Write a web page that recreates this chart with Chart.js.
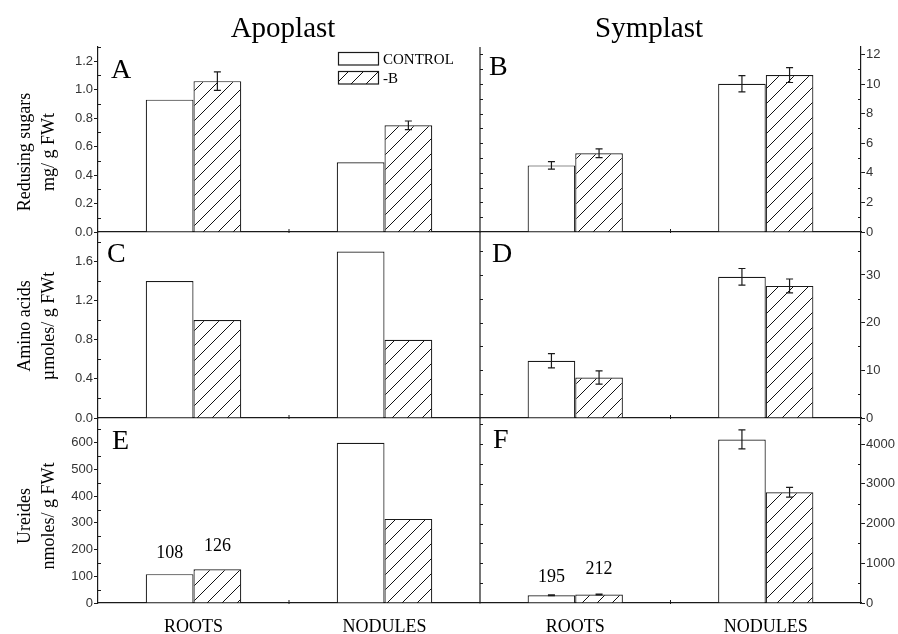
<!DOCTYPE html>
<html>
<head>
<meta charset="utf-8">
<script src="https://cdn.jsdelivr.net/npm/chart.js@4.4.1/dist/chart.umd.min.js"></script>
<style>
  body { margin: 0; background: #fff; }
  #wrap { position: relative; width: 898px; height: 634px; overflow: hidden; }
  #wrap canvas { position: absolute; left: 0; top: 0; }
  .t { position: absolute; white-space: nowrap; line-height: 1; color: #000;
       font-family: "Liberation Serif", "Times New Roman", serif; z-index: 5; }
  .ytitle { position: absolute; white-space: nowrap; text-align: center; line-height: 24px;
            font-family: "Liberation Serif", "Times New Roman", serif; font-size: 18px; z-index: 5;
            transform: translate(-50%, -50%) rotate(-90deg); }
</style>
</head>
<body>
<div id="wrap"></div>
<script>
// categories and series
const groups = ['ROOTS', 'NODULES'];
const seriesNames = ['CONTROL', '-B'];

// A - apoplast, reducing sugars (mg/ g FWt)
const aControl = [0.93, 0.49];
const aMinusB = [1.06, 0.75];
const aControlErr = [0, 0];
const aMinusBErr = [0.065, 0.03];
const aTicks = [0, 0.2, 0.4, 0.6, 0.8, 1.0, 1.2];

// B - symplast, reducing sugars
const bControl = [4.5, 10.02];
const bMinusB = [5.32, 10.6];
const bControlErr = [0.25, 0.55];
const bMinusBErr = [0.3, 0.5];
const bTicks = [0, 2, 4, 6, 8, 10, 12];

// C - apoplast, amino acids (µmoles/ g FWt)
const cControl = [1.4, 1.7];
const cMinusB = [1.0, 0.8];
const cControlErr = [0, 0];
const cMinusBErr = [0, 0];
const cTicks = [0, 0.4, 0.8, 1.2, 1.6];

// D - symplast, amino acids
const dControl = [12.0, 29.6];
const dMinusB = [8.5, 27.7];
const dControlErr = [1.5, 1.75];
const dMinusBErr = [1.4, 1.45];
const dTicks = [0, 10, 20, 30];

// E - apoplast, ureides (nmoles/ g FWt)
const eControl = [108, 600];
const eMinusB = [126, 315];
const eControlErr = [0, 0];
const eMinusBErr = [0, 0];
const eTicks = [0, 100, 200, 300, 400, 500, 600];
const eLabels = [['108', null], ['126', null]];

// F - symplast, ureides
const fControl = [195, 4120];
const fMinusB = [212, 2790];
const fControlErr = [10, 240];
const fMinusBErr = [10, 125];
const fTicks = [0, 1000, 2000, 3000, 4000];
const fLabels = [['195', null], ['212', null]];

const INK = '#1a1a1a';
const SERIF = '"Liberation Serif", "Times New Roman", serif';
const SANS = '"Liberation Sans", Arial, sans-serif';
const W = 898, H = 634;
const colEdges = [[98, 480], [480, 861]];
const rowEdges = [[47, 232], [232, 418], [418, 603]];
// gap (px) between bar top and the number written above it, per series
const labelGaps = { E: [16, 18], F: [13, 21] };

const panels = [
  { id: 'A', col: 0, row: 0, ctl: aControl, mb: aMinusB, ctlErr: aControlErr, mbErr: aMinusBErr, max: 1.3, ticks: aTicks, minor: 0.1, dec: 1, legend: true },
  { id: 'B', col: 1, row: 0, ctl: bControl, mb: bMinusB, ctlErr: bControlErr, mbErr: bMinusBErr, max: 12.5, ticks: bTicks, minor: 1, dec: 0 },
  { id: 'C', col: 0, row: 1, ctl: cControl, mb: cMinusB, ctlErr: cControlErr, mbErr: cMinusBErr, max: 1.9, ticks: cTicks, minor: 0.2, dec: 1 },
  { id: 'D', col: 1, row: 1, ctl: dControl, mb: dMinusB, ctlErr: dControlErr, mbErr: dMinusBErr, max: 39, ticks: dTicks, minor: 5, dec: 0 },
  { id: 'E', col: 0, row: 2, ctl: eControl, mb: eMinusB, ctlErr: eControlErr, mbErr: eMinusBErr, max: 693, ticks: eTicks, minor: 50, dec: 0, labels: eLabels },
  { id: 'F', col: 1, row: 2, ctl: fControl, mb: fMinusB, ctlErr: fControlErr, mbErr: fMinusBErr, max: 4660, ticks: fTicks, minor: 500, dec: 0, labels: fLabels }
];

function makeHatch() {
  const c = document.createElement('canvas');
  c.width = c.height = 15;
  const g = c.getContext('2d');
  g.fillStyle = '#fff';
  g.fillRect(0, 0, 15, 15);
  g.strokeStyle = '#111';
  g.lineWidth = 1;
  g.beginPath();
  g.moveTo(-2, 17); g.lineTo(17, -2);
  g.moveTo(-2, 2); g.lineTo(2, -2);
  g.moveTo(13, 17); g.lineTo(17, 13);
  g.stroke();
  return g.createPattern(c, 'repeat');
}
const hatch = makeHatch();

// error bars, minor ticks, mirror axis, value labels, legend
function decor(p) {
  return {
    id: 'decor' + p.id,
    afterDatasetsDraw(chart) {
      const { ctx, chartArea: a, scales: { x, y } } = chart;
      const left = p.col === 0;
      ctx.save();
      ctx.strokeStyle = INK;
      ctx.lineWidth = 1.2;

      [p.ctlErr, p.mbErr].forEach((errs, i) => {
        const vals = i ? p.mb : p.ctl;
        chart.getDatasetMeta(i).data.forEach((bar, j) => {
          const e = errs[j];
          if (!e) return;
          const t = y.getPixelForValue(vals[j] + e);
          const b = y.getPixelForValue(vals[j] - e);
          ctx.beginPath();
          ctx.moveTo(bar.x, t); ctx.lineTo(bar.x, b);
          ctx.moveTo(bar.x - 3.5, t); ctx.lineTo(bar.x + 3.5, t);
          ctx.moveTo(bar.x - 3.5, b); ctx.lineTo(bar.x + 3.5, b);
          ctx.stroke();
        });
      });

      // minor ticks on the labelled axis, pointing inward
      const n = Math.floor(p.max / p.minor + 1e-6);
      const ax = left ? a.left : a.right;
      const dir = left ? 1 : -1;
      ctx.lineWidth = 1;
      ctx.beginPath();
      for (let k = 1; k <= n; k++) {
        const v = k * p.minor;
        if (p.ticks.some(t => Math.abs(t - v) < 1e-6)) continue;
        const py = Math.round(y.getPixelForValue(v)) + 0.5;
        ctx.moveTo(ax, py); ctx.lineTo(ax + dir * 3, py);
      }
      ctx.stroke();

      // mirrored axis line between the two columns
      if (!left) {
        ctx.lineWidth = 1.2;
        ctx.beginPath();
        ctx.moveTo(a.left, a.top); ctx.lineTo(a.left, a.bottom);
        ctx.stroke();
        ctx.lineWidth = 1;
        ctx.beginPath();
        for (let k = 1; k <= n; k++) {
          const py = Math.round(y.getPixelForValue(k * p.minor)) + 0.5;
          ctx.moveTo(a.left, py); ctx.lineTo(a.left + 3, py);
        }
        ctx.stroke();
      }

      // tick between the two categories
      const xm = (x.getPixelForValue(0) + x.getPixelForValue(1)) / 2;
      ctx.beginPath();
      ctx.moveTo(xm, a.bottom - 3); ctx.lineTo(xm, a.bottom + 1);
      ctx.stroke();

      // numbers written over the small root bars
      if (p.labels) {
        ctx.fillStyle = '#000';
        ctx.font = '18px ' + SERIF;
        ctx.textAlign = 'center';
        ctx.textBaseline = 'alphabetic';
        const gaps = labelGaps[p.id];
        p.labels.forEach((row, i) => {
          const bars = chart.getDatasetMeta(i).data;
          row.forEach((txt, j) => {
            if (txt) ctx.fillText(txt, bars[j].x, bars[j].y - gaps[i]);
          });
        });
      }

      if (p.legend) {
        ctx.lineWidth = 1.2;
        ctx.fillStyle = '#fff';
        ctx.fillRect(338, 52, 40, 13);
        ctx.strokeRect(338.5, 52.5, 40, 12.5);
        ctx.fillStyle = hatch;
        ctx.fillRect(338, 71, 40, 13);
        ctx.strokeRect(338.5, 71.5, 40, 12.5);
        ctx.fillStyle = '#000';
        ctx.font = '15px ' + SERIF;
        ctx.textAlign = 'left';
        ctx.textBaseline = 'alphabetic';
        ctx.fillText(seriesNames[0], 383, 63.5);
        ctx.fillText(seriesNames[1], 383, 83);
      }
      ctx.restore();
    }
  };
}

const wrap = document.getElementById('wrap');

panels.forEach(p => {
  const cv = document.createElement('canvas');
  cv.width = W;
  cv.height = H;
  wrap.appendChild(cv);
  const [x0, x1] = colEdges[p.col];
  const [y0, y1] = rowEdges[p.row];
  const left = p.col === 0;
  const bottomRow = p.row === 2;
  const yW = left ? 40 : 36;
  const xH = bottomRow ? 31 : 0;

  new Chart(cv, {
    type: 'bar',
    data: {
      labels: groups,
      datasets: [
        { label: seriesNames[0], data: p.ctl, backgroundColor: '#fff', borderColor: INK, borderWidth: 1.2,
          categoryPercentage: 0.5, barPercentage: 1 },
        { label: seriesNames[1], data: p.mb, backgroundColor: hatch, borderColor: INK, borderWidth: 1.2,
          categoryPercentage: 0.5, barPercentage: 1 }
      ]
    },
    options: {
      responsive: false,
      animation: false,
      events: [],
      layout: {
        padding: {
          left: left ? x0 - yW : x0,
          right: left ? W - x1 : W - x1 - yW,
          top: y0,
          bottom: H - y1 - xH
        }
      },
      plugins: { legend: { display: false }, tooltip: { enabled: false } },
      scales: {
        x: {
          type: 'category',
          offset: true,
          grid: { display: false, drawTicks: false },
          border: { display: true, color: INK, width: 1.2 },
          ticks: { display: bottomRow, color: '#000', font: { family: SERIF, size: 18 }, padding: 13, maxRotation: 0 },
          afterFit: s => { s.height = xH; }
        },
        y: {
          position: left ? 'left' : 'right',
          min: 0,
          max: p.max,
          afterBuildTicks: s => { s.ticks = p.ticks.map(v => ({ value: v })); },
          afterFit: s => { s.width = yW; },
          grid: { drawOnChartArea: false, tickLength: 4, color: INK, lineWidth: 1 },
          border: { display: true, color: INK, width: 1.2 },
          ticks: {
            color: '#333',
            font: { family: SANS, size: 13 },
            padding: 1,
            callback: v => p.dec ? Number(v).toFixed(p.dec) : String(v)
          }
        }
      }
    },
    plugins: [decor(p)]
  });
});

// headings, panel letters, axis titles
function addText(txt, x, base, size, align) {
  const d = document.createElement('div');
  d.className = 't';
  d.textContent = txt;
  d.style.fontSize = size + 'px';
  d.style.top = (base - 0.8375 * size) + 'px';
  d.style.left = x + 'px';
  if (align === 'center') d.style.transform = 'translateX(-50%)';
  wrap.appendChild(d);
}
addText('Apoplast', 283, 37, 29, 'center');
addText('Symplast', 649, 37, 29, 'center');
addText('A', 111, 78, 28);
addText('B', 489, 75, 28);
addText('C', 107, 262, 28);
addText('D', 492, 262, 28);
addText('E', 112, 449, 28);
addText('F', 493, 448, 28);

function addYTitle(l1, l2, cx, cy) {
  const d = document.createElement('div');
  d.className = 'ytitle';
  d.innerHTML = l1 + '<br>' + l2;
  d.style.left = cx + 'px';
  d.style.top = cy + 'px';
  wrap.appendChild(d);
}
addYTitle('Redusing sugars', 'mg/ g FWt', 36, 152);
addYTitle('Amino acids', 'µmoles/ g FWt', 36, 326);
addYTitle('Ureides', 'nmoles/ g FWt', 36, 516);
</script>
</body>
</html>
